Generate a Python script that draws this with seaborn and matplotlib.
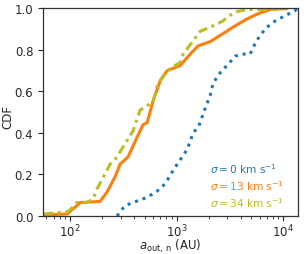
import numpy as np
import pandas as pd
import matplotlib
matplotlib.use('Agg')
import matplotlib.pyplot as plt
import seaborn as sns

# ============================
# Data (CDF curves)
# ============================
blue_x = [276, 295, 328, 390, 529, 656, 780, 928, 1127, 1254, 1430, 1620, 1855,
          2064, 2200, 2560, 3030, 3540, 4130, 4890, 5440, 6060, 7050, 8420,
          9999, 12980, 13500]
blue_y = [0.0, 0.02, 0.05, 0.065, 0.09, 0.12, 0.155, 0.22, 0.285, 0.32, 0.40,
          0.435, 0.52, 0.58, 0.64, 0.69, 0.73, 0.77, 0.78, 0.78, 0.83, 0.87,
          0.91, 0.94, 0.96, 0.99, 1.0]

orange_x = [57, 94, 104, 116, 124, 191, 222, 265, 295, 350, 426, 484, 529, 601,
            700, 814, 1080, 1340, 1592, 2064, 2560, 3390, 4590, 5820, 7550, 10900]
orange_y = [0.005, 0.01, 0.03, 0.05, 0.065, 0.07, 0.115, 0.19, 0.25, 0.285, 0.38,
            0.44, 0.45, 0.555, 0.65, 0.70, 0.725, 0.78, 0.82, 0.84, 0.87, 0.91,
            0.95, 0.975, 0.995, 1.0]

olive_x = [57, 94, 100, 116, 144, 164, 179, 238, 283, 295, 390, 454, 601, 670,
           814, 1080, 1151, 1557, 1663, 2064, 2735, 2980, 3700, 4590, 7550, 9370]
olive_y = [0.01, 0.02, 0.03, 0.065, 0.065, 0.08, 0.13, 0.25, 0.29, 0.31, 0.41,
           0.51, 0.55, 0.64, 0.70, 0.74, 0.78, 0.87, 0.89, 0.91, 0.94, 0.96,
           0.985, 0.995, 0.995, 1.0]

labels = [r'$\sigma = 0$ km s$^{-1}$',
          r'$\sigma = 13$ km s$^{-1}$',
          r'$\sigma = 34$ km s$^{-1}$']

# ============================
# Plot
# ============================
sns.set_style('ticks')
plt.rcParams['font.family'] = ['DejaVu Sans']
plt.rcParams['mathtext.fontset'] = 'dejavusans'

fig, ax = plt.subplots(figsize=(3.07, 2.55), dpi=100)
fig.subplots_adjust(left=0.140, right=0.971, top=0.963, bottom=0.149)

series = [(blue_x, blue_y, 'tab:blue', (1, 1.6)),
          (orange_x, orange_y, 'tab:orange', ''),
          (olive_x, olive_y, 'tab:olive', (3, 1.5, 1, 1.5))]

for (xs, ys, col, dash), lab in zip(series, labels):
    df = pd.DataFrame({'a': xs, 'cdf': ys})
    sns.lineplot(data=df, x='a', y='cdf', ax=ax, color=col, lw=2.2,
                 label=lab, estimator=None, sort=False)
    if dash:
        ax.lines[-1].set_dashes(dash)

ax.set_xscale('log')
ax.set_xlim(55.7, 13800)
ax.set_ylim(0, 1)
ax.set_xlabel(r'$a_{\rm out,\,n}$ (AU)', fontsize=8.5)
ax.set_ylabel('CDF', fontsize=8.5)
ax.xaxis.set_label_coords(0.5, -0.14)
ax.xaxis.label.set_va('center')
ax.yaxis.set_label_coords(-0.137, 0.48)
ax.yaxis.label.set_va('center')
ax.tick_params(axis='both', which='major', labelsize=8.5, length=3.5, width=0.8)
ax.tick_params(axis='x', which='major', pad=1.5)
ax.tick_params(axis='both', which='minor', length=2, width=0.6)

leg = ax.legend(loc='lower left', bbox_to_anchor=(0.655, 0.035), frameon=False,
                handlelength=0, handletextpad=0, labelcolor='linecolor',
                fontsize=7.6, borderaxespad=0, borderpad=0, labelspacing=0.3)
for h in leg.legend_handles:
    h.set_visible(False)

for sp in ax.spines.values():
    sp.set_color('#333333')
    sp.set_linewidth(0.9)

plt.savefig('out.png', dpi=100)
